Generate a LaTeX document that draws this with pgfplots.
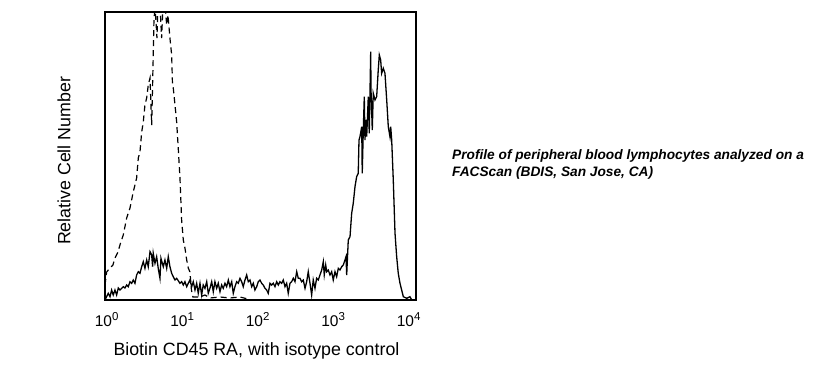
\documentclass[border=0pt]{standalone}
\usepackage{fontspec}
\setmainfont{Liberation Sans}
\usepackage{pgfplots}
\pgfplotsset{compat=1.18}
\newcommand\tp[1]{10\raisebox{6.5bp}{\fontsize{11.5bp}{11.5bp}\selectfont #1}}
\begin{document}
\begin{tikzpicture}
\path[use as bounding box] (0bp,0bp) rectangle (837bp,379bp);
\begin{axis}[
  at={(105bp,79bp)}, anchor=south west,
  width=311bp, height=288bp, scale only axis,
  xmin=-0.022, xmax=4.097, ymin=0, ymax=288,
  axis line style={line width=1.6bp},
  xtick={0,1,2,3,4},
  xticklabels={\tp{0},\tp{1},\tp{2},\tp{3},\tp{4}},
  ytick=\empty,
  major tick length=0pt,
  xticklabel style={anchor=base, yshift=-27bp, font=\fontsize{15.5bp}{17bp}\selectfont},
  every axis x label/.style={at={(axis description cs:0.487,-0.194)}, anchor=base, font=\fontsize{17.8bp}{20bp}\selectfont},
  every axis y label/.style={at={(axis description cs:-0.111,0.483)}, rotate=90, anchor=base, font=\fontsize{17.8bp}{20bp}\selectfont},
  xlabel={Biotin CD45 RA, with isotype control},
  ylabel={Relative Cell Number},
  clip=true,
]
% isotype control (dashed)
\addplot[black, line width=1.2bp, dash pattern=on 6bp off 4bp] coordinates {
(-0.022,15) (0.000,28) (0.044,32) (0.083,35) (0.110,42) (0.150,48) (0.176,55)
(0.220,65) (0.265,82) (0.282,86) (0.309,92) (0.352,108) (0.397,122) (0.419,142)
(0.441,148) (0.464,168) (0.485,178) (0.507,195) (0.530,202) (0.551,215) (0.574,222)
(0.596,175) (0.607,210) (0.617,245) (0.626,278) (0.640,295) (0.666,262) (0.679,295)
(0.706,295) (0.728,262) (0.746,295) (0.772,295) (0.795,275) (0.812,285) (0.838,262)
(0.861,245) (0.872,215) (0.882,212) (0.905,195) (0.927,178) (0.948,152) (0.971,122)
(0.993,80) (1.015,60) (1.037,52) (1.060,40) (1.081,32) (1.103,28) (1.123,10)
(1.143,3) (1.236,3) (1.302,5) (1.368,2) (1.501,3) (1.633,2) (1.766,3) (1.871,1) (1.898,0)
};
% CD45 RA (solid)
\addplot[black, line width=1.3bp] coordinates {
(-0.022,0) (0.021,6.7) (0.044,3.3) (0.066,10) (0.087,5) (0.110,10) (0.132,5)
(0.154,12) (0.176,10) (0.220,13.3) (0.242,12) (0.265,15) (0.286,13.3) (0.309,18.3)
(0.331,16.7) (0.352,20) (0.375,16.7) (0.397,25) (0.419,28.3) (0.441,26.7) (0.464,33.3)
(0.485,38.3) (0.507,31.7) (0.530,40) (0.551,33.3) (0.574,48.3) (0.596,45) (0.609,33.3)
(0.617,46.7) (0.640,36.7) (0.662,43.3) (0.683,31.7) (0.706,21.7) (0.719,41.7)
(0.750,33.3) (0.772,40) (0.795,31.7) (0.816,43.3) (0.838,33.3) (0.861,26.7)
(0.882,23.3) (0.905,20) (0.927,21.7) (0.971,16.7) (0.993,18.3) (1.015,15)
(1.037,18.3) (1.060,13.3) (1.081,16.7) (1.103,20) (1.126,13.3) (1.147,18.3)
(1.170,10) (1.192,16.7) (1.213,6.7) (1.236,16.7) (1.258,5) (1.279,15) (1.302,11.7)
(1.325,18.3) (1.346,6.7) (1.368,11.7) (1.391,18.3) (1.412,8.3) (1.434,18.3)
(1.457,11.7) (1.478,16.7) (1.501,8.3) (1.523,15) (1.544,11.7) (1.567,16.7)
(1.589,13.3) (1.611,20) (1.633,13.3) (1.656,18.3) (1.677,6.7) (1.699,13.3)
(1.722,18.3) (1.743,16.7) (1.766,21.7) (1.788,18.3) (1.809,13.3) (1.832,20)
(1.854,25) (1.876,18.3) (1.898,20) (1.921,13.3) (1.942,16.7) (1.964,10)
(1.987,13.3) (2.008,18.3) (2.030,20) (2.053,16.7) (2.074,15) (2.097,11.7)
(2.119,10) (2.140,6.7) (2.163,16.7) (2.185,15) (2.207,16.7) (2.229,13.3)
(2.252,18.3) (2.273,15) (2.295,18.3) (2.318,16.7) (2.339,20) (2.362,13.3)
(2.384,16.7) (2.405,6.7) (2.428,16.7) (2.450,18.3) (2.472,21.7) (2.494,18.3)
(2.517,28.3) (2.538,21.7) (2.560,21.7) (2.583,18.3) (2.604,20) (2.627,11.7)
(2.649,18.3) (2.670,28.3) (2.693,16.7) (2.715,5) (2.736,20) (2.759,11.7)
(2.781,21.7) (2.803,20) (2.825,25) (2.848,30) (2.869,38.3) (2.882,25) (2.901,35)
(2.914,28.3) (2.935,30) (2.958,25) (2.980,28.3) (3.001,20) (3.024,28.3)
(3.046,23.3) (3.068,31.7) (3.090,30) (3.113,33.3) (3.134,35) (3.156,40)
(3.170,43.3) (3.179,25) (3.192,46.7) (3.200,60) (3.223,63.3) (3.245,86.7)
(3.266,96.7) (3.289,113.3) (3.311,123.3) (3.332,126.7) (3.342,160) (3.355,163.3)
(3.378,173.3) (3.385,126.7) (3.399,170) (3.412,203.3) (3.421,160) (3.434,180)
(3.444,163.3) (3.465,203.3) (3.478,166.7) (3.497,248.3) (3.501,210) (3.518,170)
(3.531,206.7) (3.554,200) (3.576,203.3) (3.597,230) (3.611,245) (3.629,240)
(3.642,226.7) (3.664,231.7) (3.686,226.7) (3.709,200) (3.730,173.3) (3.752,163.3)
(3.762,173.3) (3.775,160) (3.796,120) (3.819,66.7) (3.841,43.3) (3.862,26.7)
(3.885,16.7) (3.929,3.3) (3.974,1.7) (4.017,3.3) (4.040,0)
};
\end{axis}
\node[anchor=base west, align=left, inner sep=0pt,
      font=\fontsize{13.7bp}{17bp}\selectfont\bfseries\itshape]
  at (452bp,202bp) {Profile of peripheral blood lymphocytes analyzed on a\\FACScan (BDIS, San Jose, CA)};
\end{tikzpicture}
\end{document}
